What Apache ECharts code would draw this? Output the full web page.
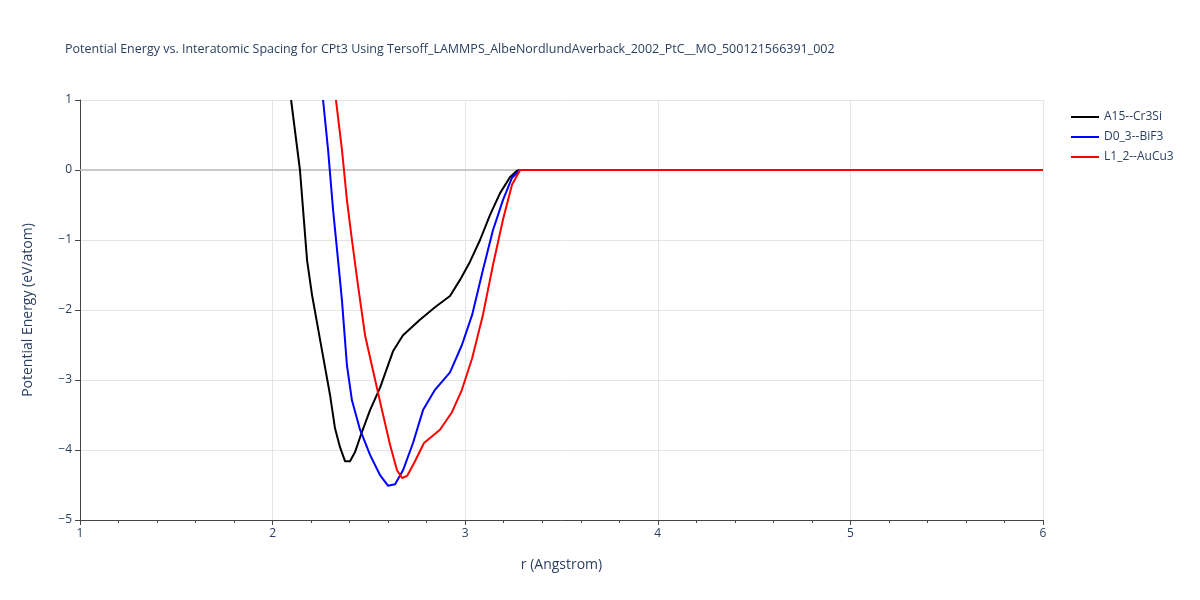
<!DOCTYPE html>
<html><head><meta charset="utf-8">
<script src="https://cdn.jsdelivr.net/npm/echarts@6/dist/echarts.min.js"></script>
<style>html,body{margin:0;padding:0;background:#fff}#c{width:1200px;height:600px}</style>
</head><body><div id="c"></div>
<script>
const titleText = "Potential Energy vs. Interatomic Spacing for CPt3 Using Tersoff_LAMMPS_AlbeNordlundAverback_2002_PtC__MO_500121566391_002";
const seriesNames = ["A15--Cr3Si", "D0_3--BiF3", "L1_2--AuCu3"];
const colors = ["#000000", "#0000ff", "#ff0000"];
const a15R = [2.096,2.142,2.179,2.205,2.256,2.298,2.324,2.35,2.376,2.402,2.428,2.464,2.506,2.558,2.625,2.677,2.765,2.843,2.921,2.973,3.025,3.077,3.129,3.181,3.233,3.269,3.285,4,5,6];
const a15E = [1,0,-1.29,-1.79,-2.57,-3.21,-3.69,-3.96,-4.16,-4.16,-4.03,-3.74,-3.43,-3.11,-2.59,-2.36,-2.14,-1.96,-1.8,-1.57,-1.31,-1.0,-0.64,-0.33,-0.1,-0.01,0,0,0,0];
const d03R = [2.262,2.288,2.314,2.34,2.36,2.386,2.412,2.454,2.506,2.558,2.599,2.636,2.677,2.729,2.781,2.843,2.921,2.983,3.036,3.092,3.144,3.196,3.243,3.285,4,5,6];
const d03E = [1,0.29,-0.57,-1.29,-1.86,-2.79,-3.29,-3.71,-4.07,-4.36,-4.51,-4.49,-4.29,-3.9,-3.43,-3.14,-2.89,-2.5,-2.07,-1.43,-0.86,-0.43,-0.11,0,0,0,0];
const l12R = [2.329,2.36,2.386,2.412,2.443,2.48,2.521,2.568,2.61,2.646,2.672,2.698,2.734,2.786,2.869,2.931,2.983,3.036,3.092,3.144,3.196,3.243,3.285,4,5,6];
const l12E = [1,0.29,-0.43,-1.0,-1.64,-2.36,-2.86,-3.43,-3.93,-4.29,-4.4,-4.37,-4.19,-3.9,-3.71,-3.46,-3.14,-2.69,-2.07,-1.36,-0.71,-0.21,0,0,0,0];
const xs=[a15R,d03R,l12R], ys=[a15E,d03E,l12E];
const fmt=v=>(v<0?"\u2212"+(-v):""+v);
const chart=echarts.init(document.getElementById('c'));
chart.setOption({
  animation:false,
  title:{text:titleText,left:60,top:38,textStyle:{fontFamily:"Open Sans",fontSize:12.5,fontWeight:"normal",color:"#2a3f5f"}},
  legend:{orient:"vertical",left:1066,top:106,itemWidth:28,itemHeight:2,itemGap:8,icon:"rect",
    textStyle:{fontFamily:"Open Sans",fontSize:12,color:"#2a3f5f"}},
  grid:{left:80,right:157,top:100,bottom:80},
  xAxis:{type:"value",min:1,max:6,interval:1,name:"r (Angstrom)",nameLocation:"middle",nameGap:38,
    nameTextStyle:{fontFamily:"Open Sans",fontSize:14,color:"#2a3f5f"},
    axisLine:{onZero:false,lineStyle:{color:"#444"}},axisTick:{show:true,length:5,lineStyle:{color:"#444"}},
    minorTick:{show:true,splitNumber:5,length:3,lineStyle:{color:"#444"}},
    axisLabel:{fontFamily:"Open Sans",fontSize:12,color:"#2a3f5f",formatter:fmt},
    splitLine:{show:true,lineStyle:{color:"#e5e5e5"}}},
  yAxis:{type:"value",min:-5,max:1,interval:1,name:"Potential Energy (eV/atom)",nameLocation:"middle",nameGap:45,
    nameTextStyle:{fontFamily:"Open Sans",fontSize:14,color:"#2a3f5f"},
    axisLine:{show:true,onZero:false,lineStyle:{color:"#444"}},axisTick:{show:true,length:5,lineStyle:{color:"#444"}},
    axisLabel:{fontFamily:"Open Sans",fontSize:12,color:"#2a3f5f",formatter:fmt},
    splitLine:{show:true,lineStyle:{color:"#e5e5e5"}}},
  series:seriesNames.map((n,i)=>({name:n,type:"line",showSymbol:false,smooth:false,clip:true,
    lineStyle:{color:colors[i],width:2,join:"round"},itemStyle:{color:colors[i]},
    data:xs[i].map((x,j)=>[x,ys[i][j]]),
    markLine:i===0?{silent:true,symbol:"none",label:{show:false},lineStyle:{color:"#bbb",width:1.5,type:"solid"},data:[{yAxis:0}],z:1}:undefined}))
});
</script></body></html>
